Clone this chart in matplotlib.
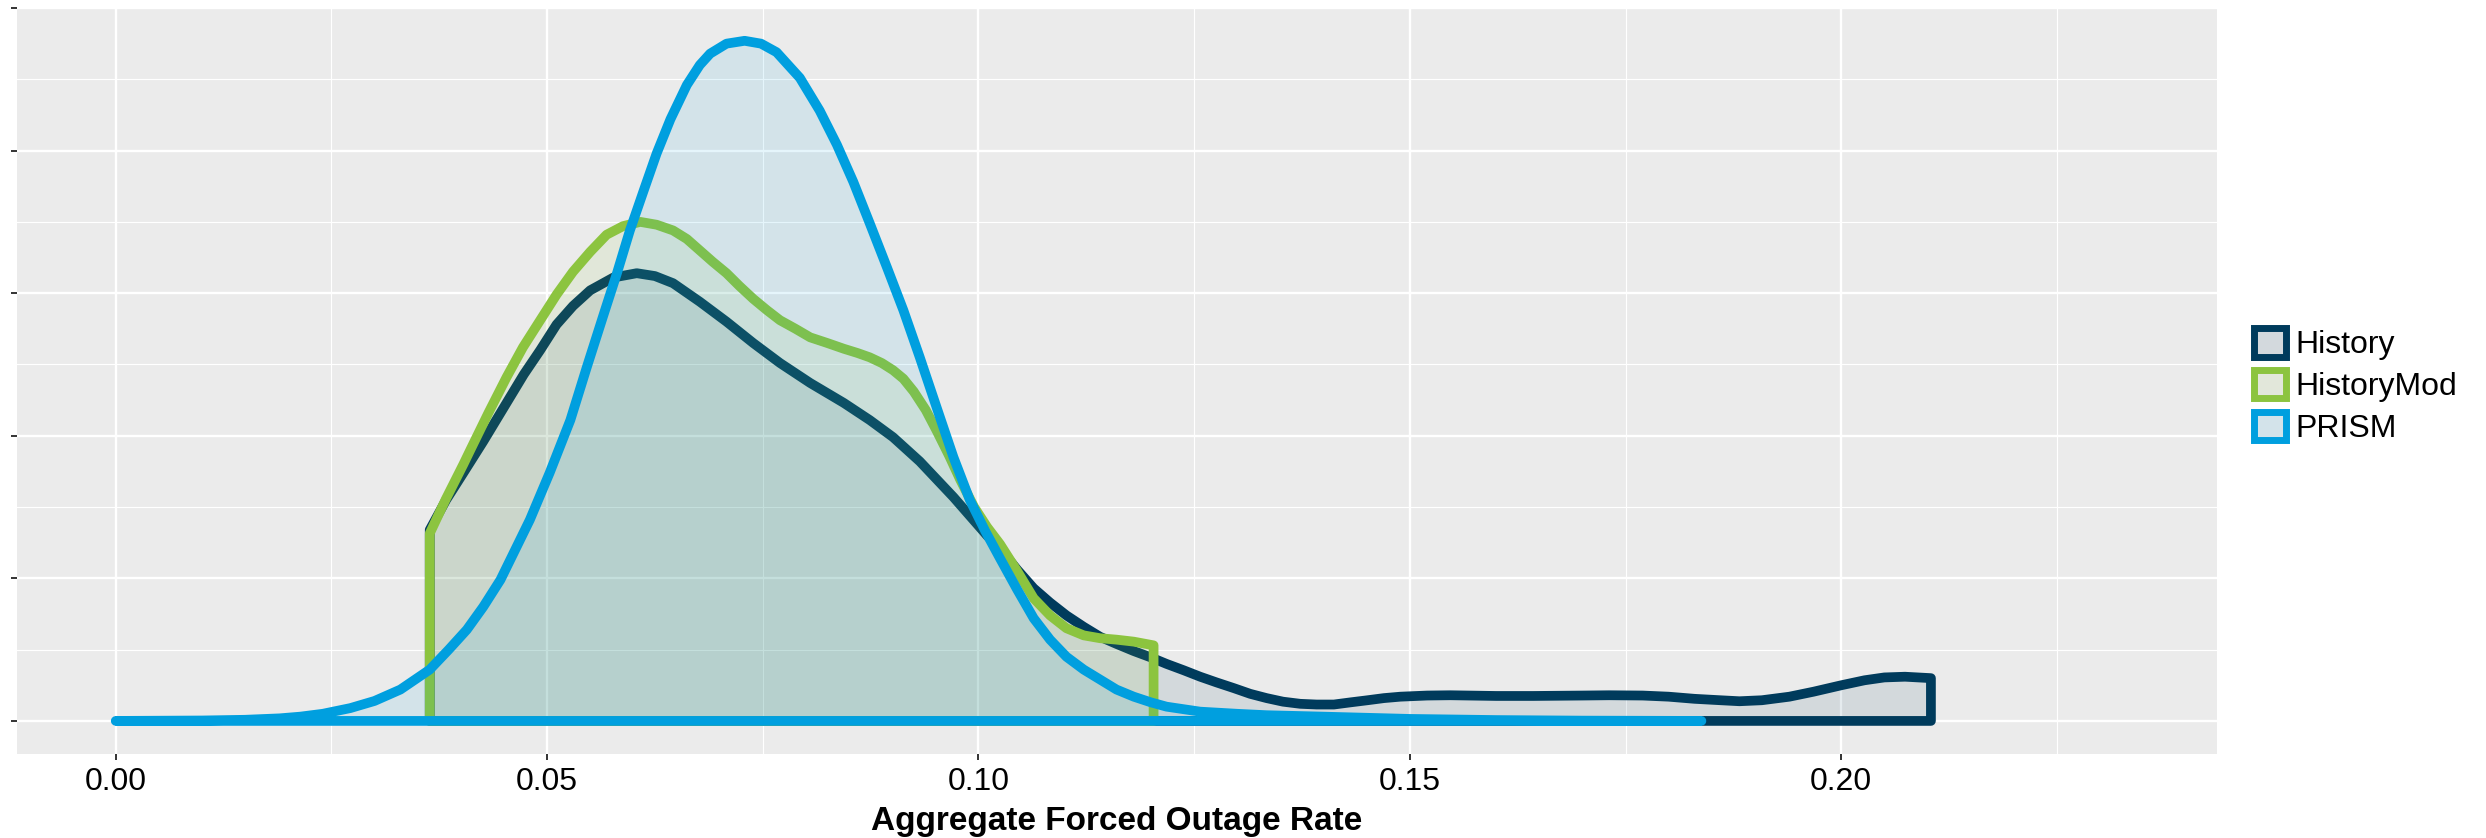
import numpy as np
import matplotlib
matplotlib.use("Agg")
from matplotlib import pyplot as plt
from matplotlib.patches import Patch
from matplotlib.colors import to_rgb

plt.rcParams["font.family"] = ["Liberation Sans", "DejaVu Sans"]

# density curves (x = outage rate, y = density in tick units)
hist_x = [0.0364, 0.0364, 0.0383, 0.0403, 0.0426, 0.0450, 0.0473, 0.0492, 0.0511, 0.0530,
          0.0550, 0.0577, 0.0604, 0.0625, 0.0646, 0.0677, 0.0708, 0.0739, 0.0770, 0.0805,
          0.0844, 0.0874, 0.0901, 0.0932, 0.0971, 0.1010, 0.1025, 0.1045, 0.1064, 0.1083,
          0.1102, 0.1122, 0.1141, 0.1160, 0.1180, 0.1200, 0.1218, 0.1238, 0.1257, 0.1276,
          0.1296, 0.1315, 0.1334, 0.1353, 0.1373, 0.1392, 0.1412, 0.1431, 0.1451, 0.1470,
          0.1489, 0.1520, 0.1547, 0.1600, 0.1643, 0.1700, 0.1731, 0.1770, 0.1800, 0.1830,
          0.1860, 0.1882, 0.1908, 0.1940, 0.1968, 0.2000, 0.2027, 0.2050, 0.2074, 0.2104,
          0.2104]
hist_y = [0.0, 1.34, 1.55, 1.74, 1.96, 2.20, 2.43, 2.60, 2.78, 2.91,
          3.02, 3.11, 3.14, 3.12, 3.07, 2.94, 2.80, 2.65, 2.51, 2.37,
          2.23, 2.11, 1.99, 1.82, 1.57, 1.30, 1.21, 1.06, 0.93, 0.83,
          0.74, 0.66, 0.59, 0.54, 0.49, 0.445, 0.40, 0.355, 0.31, 0.27,
          0.23, 0.19, 0.16, 0.135, 0.12, 0.115, 0.115, 0.13, 0.145, 0.16,
          0.17, 0.178, 0.18, 0.175, 0.175, 0.178, 0.18, 0.178, 0.17, 0.155,
          0.145, 0.138, 0.145, 0.17, 0.205, 0.25, 0.285, 0.305, 0.31, 0.30,
          0.0]

mod_x = [0.0364, 0.0364, 0.0383, 0.0403, 0.0411, 0.0432, 0.0453, 0.0472, 0.0492, 0.0511,
         0.0530, 0.0550, 0.0569, 0.0588, 0.0608, 0.0627, 0.0646, 0.0662, 0.0677, 0.0692,
         0.0708, 0.0723, 0.0739, 0.0755, 0.0770, 0.0788, 0.0805, 0.0825, 0.0844, 0.0860,
         0.0874, 0.0888, 0.0901, 0.0913, 0.0925, 0.0939, 0.0952, 0.0966, 0.0979, 0.0995,
         0.1010, 0.1025, 0.1045, 0.1064, 0.1083, 0.1102, 0.1122, 0.1141, 0.1160, 0.1180,
         0.1203, 0.1203]
mod_y = [0.0, 1.315, 1.56, 1.80, 1.90, 2.16, 2.41, 2.62, 2.81, 2.99,
         3.15, 3.29, 3.41, 3.47, 3.50, 3.48, 3.44, 3.38, 3.30, 3.22,
         3.14, 3.05, 2.96, 2.88, 2.81, 2.75, 2.69, 2.65, 2.61, 2.58,
         2.55, 2.51, 2.46, 2.40, 2.31, 2.18, 2.03, 1.86, 1.69, 1.50,
         1.36, 1.24, 1.05, 0.86, 0.74, 0.65, 0.60, 0.58, 0.57, 0.556,
         0.53, 0.0]

prism_x = [0.000, 0.010, 0.015, 0.019, 0.0214, 0.024, 0.0272, 0.0300, 0.0330, 0.0364,
           0.0386, 0.0407, 0.0426, 0.0446, 0.0463, 0.0480, 0.0503, 0.0527, 0.0546, 0.0565,
           0.0581, 0.0596, 0.0612, 0.0627, 0.0643, 0.0662, 0.0677, 0.0689, 0.0708, 0.0729,
           0.0748, 0.0766, 0.0793, 0.0816, 0.0836, 0.0855, 0.0874, 0.0894, 0.0913, 0.0932,
           0.0952, 0.0971, 0.0990, 0.1008, 0.1025, 0.1045, 0.1064, 0.1083, 0.1102, 0.1122,
           0.1141, 0.1160, 0.1180, 0.1200, 0.1218, 0.1257, 0.1300, 0.1334, 0.1400, 0.1450,
           0.1500, 0.1600, 0.1700, 0.1838]
prism_y = [0.0, 0.003, 0.008, 0.018, 0.03, 0.05, 0.09, 0.14, 0.22, 0.36,
           0.50, 0.64, 0.80, 0.99, 1.20, 1.41, 1.74, 2.11, 2.48, 2.84,
           3.14, 3.44, 3.72, 3.98, 4.22, 4.46, 4.60, 4.68, 4.75, 4.77,
           4.75, 4.69, 4.51, 4.28, 4.04, 3.78, 3.49, 3.18, 2.88, 2.55,
           2.19, 1.85, 1.55, 1.33, 1.14, 0.92, 0.72, 0.57, 0.45, 0.36,
           0.29, 0.22, 0.17, 0.13, 0.10, 0.065, 0.05, 0.04, 0.03, 0.022,
           0.014, 0.006, 0.002, 0.0]

names = ["History", "HistoryMod", "PRISM"]
colors = ["#003B5C", "#8CC43F", "#009FDF"]
xticks = [0.00, 0.05, 0.10, 0.15, 0.20]
xticklabels = ["0.00", "0.05", "0.10", "0.15", "0.20"]

bg = np.array(to_rgb("#EBEBEB"))

fig = plt.figure(figsize=(24.86, 8.38), dpi=100)
ax = fig.add_axes([17/2486, 1-754/838, (2216.5-17)/2486, (754-8)/838])
ax.set_facecolor(bg)
for s in ax.spines.values():
    s.set_visible(False)

ax.set_xlim(-0.01144, 0.2435)
ax.set_ylim(-0.232, 4.998)
ax.set_xticks(xticks)
ax.set_xticklabels(xticklabels)
ax.set_xticks([0.025, 0.075, 0.125, 0.175, 0.225], minor=True)
ax.set_yticks(range(6))
ax.set_yticklabels([])
ax.set_yticks([0.5, 1.5, 2.5, 3.5, 4.5], minor=True)
ax.grid(which="major", color="white", lw=1.7)
ax.grid(which="minor", color="white", lw=0.8)
ax.set_axisbelow(True)
ax.tick_params(which="major", length=4, width=1.4, color="#333333",
               labelsize=23, labelcolor="black", pad=5)
ax.tick_params(which="minor", length=0)

series = [(hist_x, hist_y), (mod_x, mod_y), (prism_x, prism_y)]
for (x, y), c in zip(series, colors):
    ax.fill(x, y, facecolor=to_rgb(c) + (0.1,), edgecolor=c, lw=7,
            joinstyle="round", capstyle="round")

ax.set_xlabel("Aggregate Forced Outage Rate", fontsize=24, fontweight="bold", labelpad=7)

handles = [Patch(facecolor=0.9*bg + 0.1*np.array(to_rgb(c)), edgecolor=c, lw=5) for c in colors]
fig.legend(handles, names, loc="center left", bbox_to_anchor=(2238/2486, 1-386/838),
           frameon=False, fontsize=23, handlelength=1.0, handleheight=1.0,
           labelspacing=0.3, handletextpad=0.3, borderpad=0)

fig.savefig("out.png", dpi=100)
